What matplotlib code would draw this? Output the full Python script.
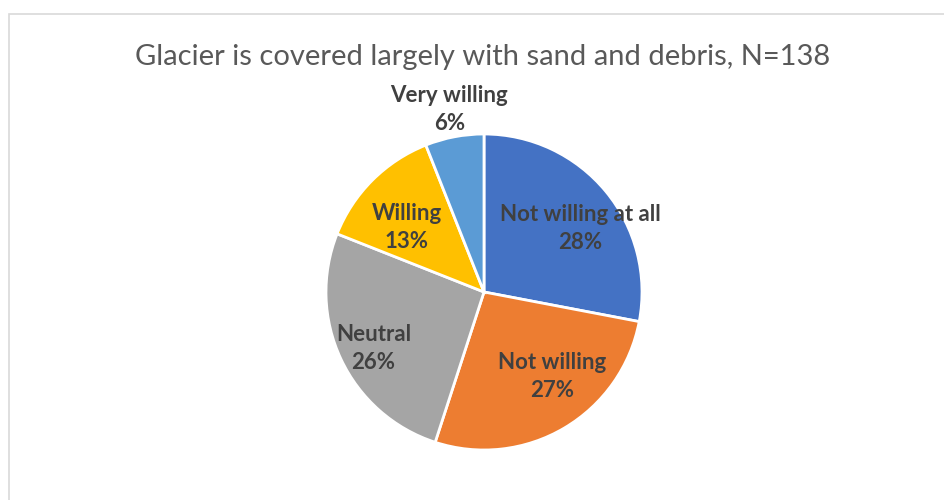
import matplotlib
matplotlib.use("Agg")
import matplotlib.pyplot as plt
from matplotlib.patches import Rectangle

categories = ["Not willing at all", "Not willing", "Neutral", "Willing", "Very willing"]
values = [28, 27, 26, 13, 6]
pct_labels = ["28%", "27%", "26%", "13%", "6%"]
colors = ["#4472C4", "#ED7D31", "#A5A5A5", "#FFC000", "#5B9BD5"]
title = "Glacier is covered largely with sand and debris, N=138"

# label anchor positions (in pie radius units)
label_pos = [(0.61, 0.40), (0.43, -0.535), (-0.70, -0.36), (-0.49, 0.41), (-0.22, 1.155)]

W, H = 945, 500
fig = plt.figure(figsize=(W / 100, H / 100), dpi=100)
fig.patch.set_facecolor("white")

# chart frame
fig.patches.append(Rectangle((9 / W, -0.1), 1.2, (H - 14) / H + 0.1, transform=fig.transFigure,
                             fill=False, edgecolor="#D9D9D9", linewidth=1.2))

cx, cy, r = 484, 292, 158
ax = fig.add_axes([(cx - r) / W, (H - cy - r) / H, 2 * r / W, 2 * r / H])
ax.pie(values, colors=colors, startangle=90, counterclock=False, radius=1,
       wedgeprops=dict(edgecolor="white", linewidth=2))
ax.set_xlim(-1, 1)
ax.set_ylim(-1, 1)
ax.set_aspect("equal")
ax.axis("off")

font = ["Lato", "DejaVu Sans"]
for cat, p, (x, y) in zip(categories, pct_labels, label_pos):
    ax.text(x, y, cat + "\n" + p, ha="center", va="center", fontsize=16, fontweight="bold",
            color="#404040", family=font, linespacing=1.42, clip_on=False)

fig.text(483 / W, 1 - 57 / H, title, ha="center", va="center", fontsize=21,
         color="#595959", family=font)

fig.savefig("out.png", dpi=100, facecolor="white")
